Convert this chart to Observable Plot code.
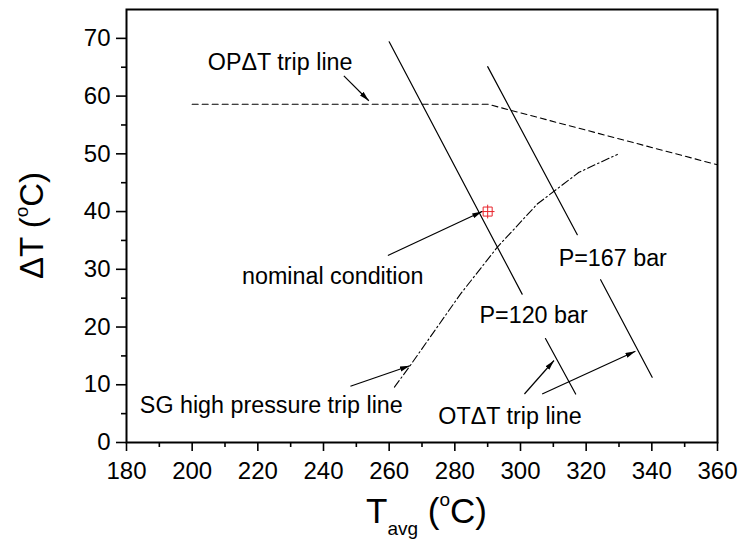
<!DOCTYPE html>
<html><head><meta charset="utf-8">
<script src="https://cdn.jsdelivr.net/npm/d3@7"></script>
<script src="https://cdn.jsdelivr.net/npm/@observablehq/plot@0.6"></script>
<style>body{margin:0;background:#fff} svg{display:block}</style>
</head><body><div id="chart"></div>
<script>
// Axis ticks
const xTicks = [180, 200, 220, 240, 260, 280, 300, 320, 340, 360];
const xMinorTicks = [190, 210, 230, 250, 270, 290, 310, 330, 350];
const yTicks = [0, 10, 20, 30, 40, 50, 60, 70];
const yMinorTicks = [5, 15, 25, 35, 45, 55, 65];

// OPΔT trip line (dashed)
const opdtX = [200, 290, 360];
const opdtY = [58.6, 58.6, 48.1];

// SG high pressure trip line (dash-dot)
const sgX = [261.6, 266.0, 281.7, 292.9, 305.1, 317.8, 329.5];
const sgY = [9.6, 13.0, 25.7, 33.8, 41.3, 46.8, 49.9];

// OTΔT trip lines (solid), broken around their labels
const pSeg = ["a", "a", "b", "b"];
const p120X = [260, 300.5, 307.6, 316.8];
const p120Y = [69.4, 25.7, 18.0, 8.4];
const p167X = [290, 317.3, 324.4, 340.1];
const p167Y = [65.1, 36.0, 28.2, 11.3];

// Nominal condition
const nominalX = [290];
const nominalY = [40];

// Annotation labels
const labelText = ["OPΔT trip line", "nominal condition", "P=167 bar", "P=120 bar", "SG high pressure trip line", "OTΔT trip line"];
const labelX = [226.8, 242.8, 328.1, 304.0, 224.1, 296.8];
const labelY = [64.5, 27.5, 30.6, 20.65, 5.07, 3.24];

// Annotation arrows
const arrowX1 = [246.2, 259.6, 248.2, 301.2, 306.6];
const arrowY1 = [63.5, 32.4, 9.75, 8.4, 8.4];
const arrowX2 = [253.8, 288.3, 266.3, 310.2, 335.0];
const arrowY2 = [59.2, 40.0, 13.3, 14.2, 15.8];

const zip = (xs, ys, extra = {}) => xs.map((x, i) => ({x, y: ys[i], ...Object.fromEntries(Object.entries(extra).map(([k, v]) => [k, v[i]]))}));
const opdt = zip(opdtX, opdtY);
const sg = zip(sgX, sgY);
const p120 = zip(p120X, p120Y, {seg: pSeg});
const p167 = zip(p167X, p167Y, {seg: pSeg});
const nominal = zip(nominalX, nominalY);
const labels = labelText.map((t, i) => ({text: t, x: labelX[i], y: labelY[i]}));
const arrows = arrowX1.map((x1, i) => ({x1, y1: arrowY1[i], x2: arrowX2[i], y2: arrowY2[i]}));

const W = 740, H = 540, mL = 126, mR = 23, mT = 9, mB = 98;

// filled triangular arrowhead marker
function filledArrow(color, context) {
  const doc = (context && context.document) || document;
  const ns = "http://www.w3.org/2000/svg";
  const m = doc.createElementNS(ns, "marker");
  m.setAttribute("viewBox", "-10 -3 10 6");
  m.setAttribute("markerWidth", 10);
  m.setAttribute("markerHeight", 6);
  m.setAttribute("markerUnits", "userSpaceOnUse");
  m.setAttribute("refX", 0);
  m.setAttribute("refY", 0);
  m.setAttribute("orient", "auto");
  const p = doc.createElementNS(ns, "path");
  p.setAttribute("d", "M0,0L-10,-2.6L-10,2.6Z");
  p.setAttribute("fill", color);
  p.setAttribute("stroke", "none");
  m.appendChild(p);
  return m;
}

function build(useMarker) {
  const arrowMark = useMarker
    ? Plot.link(arrows, {x1: "x1", y1: "y1", x2: "x2", y2: "y2", stroke: "black", strokeWidth: 1.2, markerEnd: filledArrow})
    : Plot.arrow(arrows, {x1: "x1", y1: "y1", x2: "x2", y2: "y2", stroke: "black", strokeWidth: 1.2, headLength: 9, headAngle: 30, insetStart: 0, insetEnd: 0});
  return Plot.plot({
    width: W, height: H,
    marginLeft: mL, marginRight: mR, marginTop: mT, marginBottom: mB,
    style: {fontFamily: "'Liberation Sans', Arial, sans-serif", background: "white", color: "black", overflow: "visible"},
    x: {domain: [180, 360]},
    y: {domain: [0, 75]},
    marks: [
      Plot.axisX(xTicks, {tickSize: 9, tickPadding: 10, fontSize: 24, strokeWidth: 1.6, label: null}),
      Plot.axisX(xMinorTicks, {tickSize: 5, strokeWidth: 1.6, tickFormat: () => "", label: null}),
      Plot.axisY(yTicks, {tickSize: 10, tickPadding: 6, fontSize: 24, strokeWidth: 1.6, label: null}),
      Plot.axisY(yMinorTicks, {tickSize: 5, strokeWidth: 1.6, tickFormat: () => "", label: null}),
      Plot.line(opdt, {x: "x", y: "y", stroke: "black", strokeWidth: 1.1, strokeDasharray: "6,4"}),
      Plot.line(sg, {x: "x", y: "y", stroke: "black", strokeWidth: 1.1, strokeDasharray: "8,3,1.5,3"}),
      Plot.line(p120, {x: "x", y: "y", z: "seg", stroke: "black", strokeWidth: 1.2}),
      Plot.line(p167, {x: "x", y: "y", z: "seg", stroke: "black", strokeWidth: 1.2}),
      Plot.dot(nominal, {x: "x", y: "y", symbol: "square", r: 5.1, stroke: "#e8242b", strokeWidth: 1, fill: "none"}),
      Plot.dot(nominal, {x: "x", y: "y", symbol: "plus", r: 4.5, stroke: "#e8242b", strokeWidth: 1}),
      arrowMark,
      Plot.text(labels, {x: "x", y: "y", text: "text", fontSize: 23.3, textAnchor: "middle", lineAnchor: "bottom", fill: "black"}),
      Plot.frame({stroke: "black", strokeWidth: 2})
    ]
  });
}

let chart;
try { chart = build(true); } catch (e) { chart = build(false); }

const svg = d3.select(chart);
// x axis title: T_avg (°C)
const xt = svg.append("text")
  .attr("x", (mL + W - mR) / 2 + 5).attr("y", 523)
  .attr("text-anchor", "middle").attr("font-size", 35).attr("fill", "black")
  .style("white-space", "pre");
xt.append("tspan").text("T");
xt.append("tspan").attr("font-size", 19).attr("dy", 12).text("avg");
xt.append("tspan").attr("dy", -12).text(" (");
xt.append("tspan").attr("font-size", 19).attr("dy", -17).text("o");
xt.append("tspan").attr("dy", 17).text("C)");

// y axis title: ΔT (°C)
const yt = svg.append("text")
  .attr("transform", `translate(43,${(mT + H - mB) / 2}) rotate(-90)`)
  .attr("text-anchor", "middle").attr("font-size", 33).attr("fill", "black")
  .style("white-space", "pre");
yt.append("tspan").text("ΔT (");
yt.append("tspan").attr("font-size", 19).attr("dy", -15).text("o");
yt.append("tspan").attr("dy", 15).text("C)");

document.getElementById("chart").append(chart);
</script>
</body></html>
